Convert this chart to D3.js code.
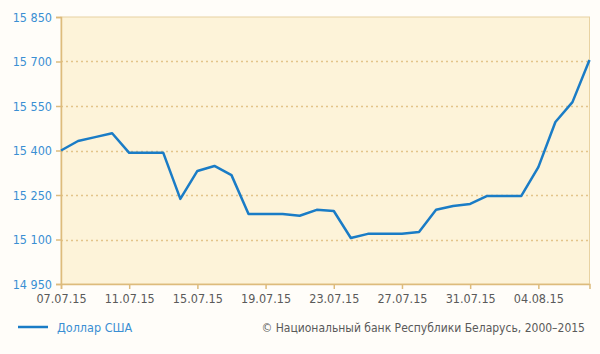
<!DOCTYPE html>
<html>
<head>
<meta charset="utf-8">
<script src="https://cdn.jsdelivr.net/npm/d3@7"></script>
<style>
  body { margin: 0; background: #fffdf9; }
  svg { display: block; }
</style>
</head>
<body>
<div class="canvas"></div>
<script>
// data
const dates = [
  '07.07.15', '08.07.15', '09.07.15', '10.07.15', '11.07.15', '12.07.15', '13.07.15', '14.07.15',
  '15.07.15', '16.07.15', '17.07.15', '18.07.15', '19.07.15', '20.07.15', '21.07.15', '22.07.15',
  '23.07.15', '24.07.15', '25.07.15', '26.07.15', '27.07.15', '28.07.15', '29.07.15', '30.07.15',
  '31.07.15', '01.08.15', '02.08.15', '03.08.15', '04.08.15', '05.08.15', '06.08.15', '07.08.15'
];
const usd = [
  15400, 15432, 15445, 15458, 15392, 15392, 15392, 15237,
  15331, 15348, 15317, 15186, 15186, 15186, 15180, 15200,
  15196, 15105, 15119, 15119, 15119, 15125, 15200, 15213,
  15220, 15247, 15247, 15247, 15344, 15496, 15563, 15705
];
const tickLabels = ['07.07.15', '11.07.15', '15.07.15', '19.07.15', '23.07.15', '27.07.15', '31.07.15', '04.08.15'];
const yTicks = [14950, 15100, 15250, 15400, 15550, 15700, 15850];
const seriesName = 'Доллар США';
const credit = '© Национальный банк Республики Беларусь, 2000–2015';

// setup
const dims = { width: 600, height: 354 };
const margin = { top: 17, right: 10, bottom: 70, left: 61 };
const parse = d3.timeParse('%d.%m.%y');
const fmt = d3.formatLocale({ decimal: ',', thousands: ' ', grouping: [3], currency: ['', ''] }).format(',');
const font = '"DejaVu Sans Condensed", "DejaVu Sans", sans-serif';

const data = dates.map((d, i) => ({ date: parse(d), value: usd[i] }));

const svg = d3.select('.canvas')
  .append('svg')
  .attr('width', dims.width)
  .attr('height', dims.height)
  .style('font-family', font);

const x = d3.scaleTime()
  .domain(d3.extent(data, (d) => d.date))
  .range([margin.left, dims.width - margin.right - 0.5]);

const y = d3.scaleLinear()
  .domain([14950, 15850])
  .range([dims.height - margin.bottom, margin.top]);

// plot background
svg.append('rect')
  .attr('x', x.range()[0])
  .attr('y', y(15850))
  .attr('width', x.range()[1] - x.range()[0])
  .attr('height', y(14950) - y(15850))
  .attr('fill', '#fdf3d9')
  .attr('stroke', '#e8d2a2')
  .attr('stroke-width', 1);

// grid
svg.append('g')
  .selectAll('line')
  .data(yTicks.slice(1, -1))
  .join('line')
  .attr('x1', x.range()[0])
  .attr('x2', x.range()[1])
  .attr('y1', (d) => Math.round(y(d)) + 0.5)
  .attr('y2', (d) => Math.round(y(d)) + 0.5)
  .attr('stroke', '#e3c48a')
  .attr('stroke-width', 1.5)
  .attr('stroke-dasharray', '2,3');

// y axis
const yAxis = svg.append('g')
  .attr('transform', `translate(${x.range()[0]},0)`)
  .call(d3.axisLeft(y).tickValues(yTicks).tickFormat(fmt).tickSize(5).tickPadding(4));
yAxis.select('.domain').attr('stroke', '#ddbb7c').attr('stroke-width', 1.5);
yAxis.selectAll('.tick line').attr('stroke', '#ddbb7c').attr('stroke-width', 1.5);
yAxis.selectAll('text')
  .attr('fill', '#3a8fd3')
  .style('font-family', font)
  .style('font-size', '12.5px');

// x axis
const xAxis = svg.append('g')
  .attr('transform', `translate(0,${y(14950)})`)
  .call(d3.axisBottom(x).tickValues(tickLabels.map(parse)).tickFormat(d3.timeFormat('%d.%m.%y')).tickSize(5).tickPadding(5));
xAxis.select('.domain').attr('stroke', '#ddbb7c').attr('stroke-width', 1.5);
xAxis.selectAll('.tick line').attr('stroke', '#ddbb7c').attr('stroke-width', 1.5);
xAxis.selectAll('text')
  .attr('fill', '#5a5a5a')
  .style('font-family', font)
  .style('font-size', '12.5px');

// line
const line = d3.line()
  .x((d) => x(d.date))
  .y((d) => y(d.value));

svg.append('path')
  .datum(data)
  .attr('d', line)
  .attr('fill', 'none')
  .attr('stroke', '#1a7cc6')
  .attr('stroke-width', 2.5)
  .attr('stroke-linejoin', 'round');

// legend
const legendGroup = svg.append('g').attr('transform', 'translate(18,327)');
legendGroup.append('line')
  .attr('x1', 0).attr('x2', 30)
  .attr('stroke', '#1a7cc6')
  .attr('stroke-width', 2.5);
legendGroup.append('text')
  .attr('x', 39)
  .attr('y', 5)
  .attr('fill', '#3a8fd3')
  .style('font-size', '12.5px')
  .text(seriesName);

svg.append('text')
  .attr('x', 585)
  .attr('y', 332)
  .attr('text-anchor', 'end')
  .attr('fill', '#5a5a5a')
  .style('font-size', '12px')
  .text(credit);
</script>
</body>
</html>
